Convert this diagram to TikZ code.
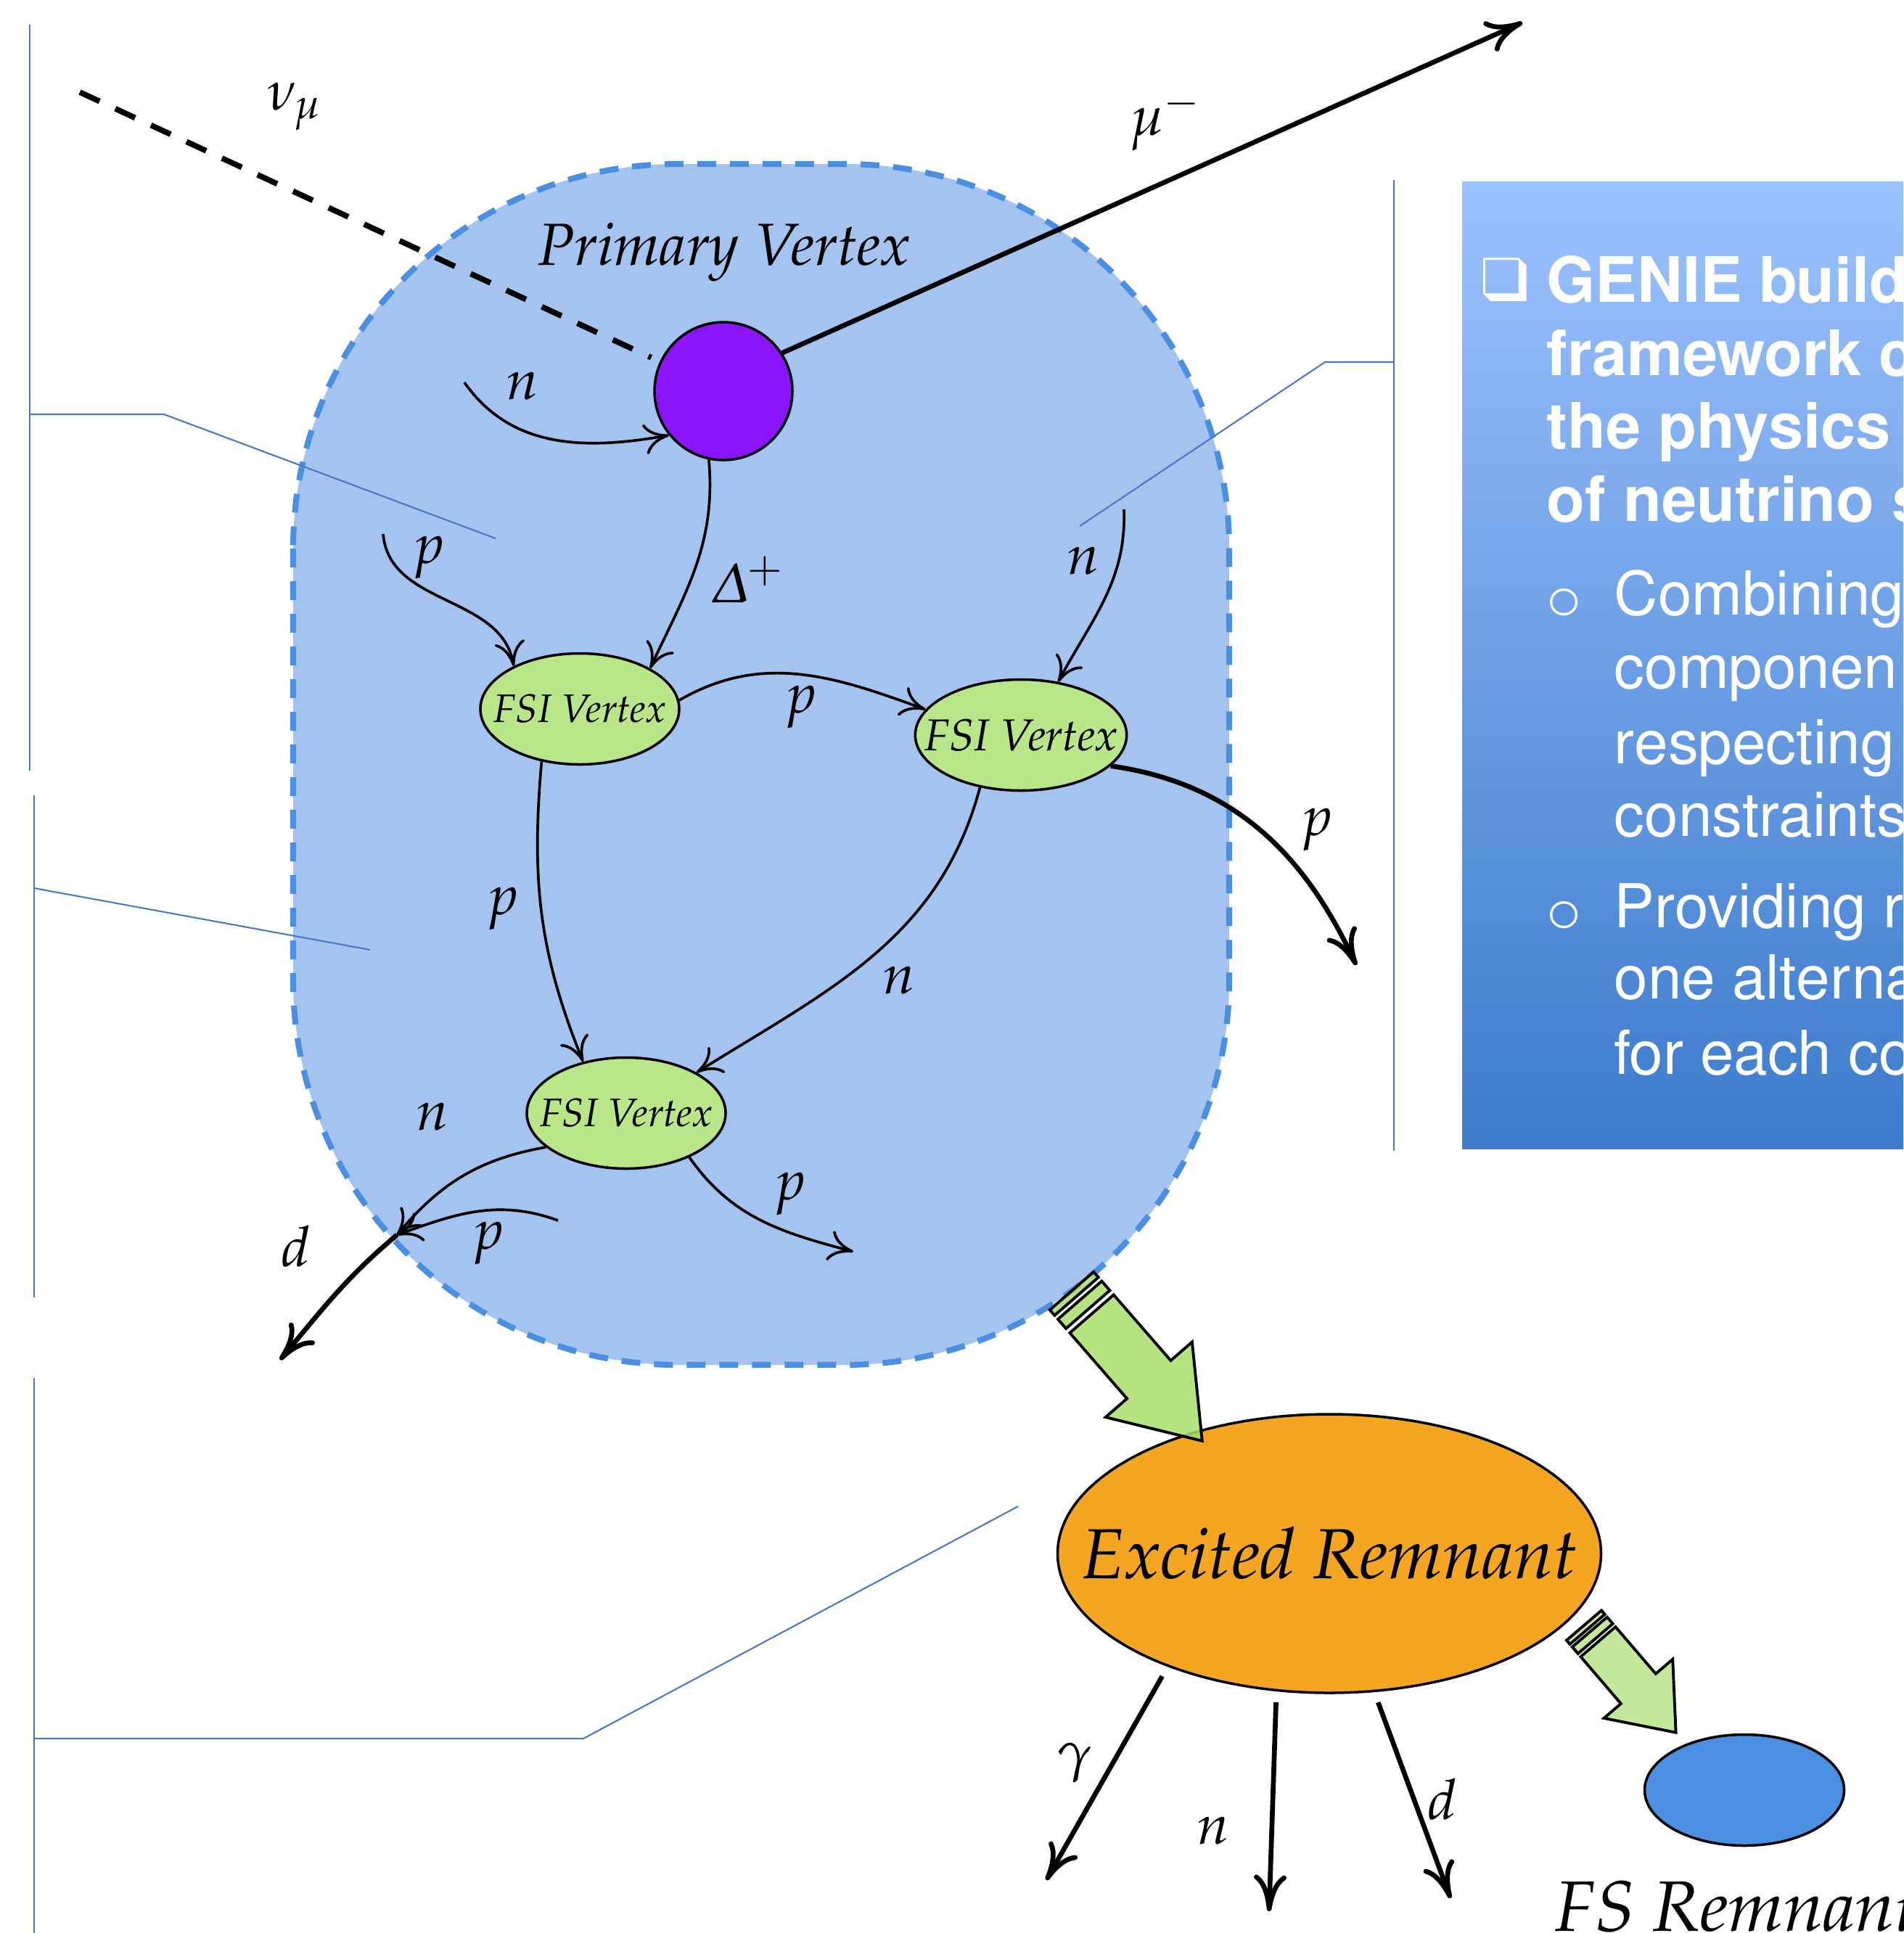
\documentclass[tikz,border=0pt]{standalone}
\usepackage[T1]{fontenc}
\usepackage[slantedGreek]{mathpazo}
\usepackage{helvet}
\usepackage{pifont}
\usetikzlibrary{shapes.geometric}
\usetikzlibrary{arrows.meta}
\definecolor{nucfill}{HTML}{A4C3EE}
\definecolor{nucdraw}{HTML}{4A8FE2}
\definecolor{primpurple}{HTML}{8B14F8}
\definecolor{fsigreen}{HTML}{B8E689}
\definecolor{remorange}{HTML}{F4A623}
\definecolor{fsblue}{HTML}{4A8FE0}
\definecolor{calloutblue}{HTML}{4A78C6}
\definecolor{boxtop}{HTML}{9CC2FE}
\definecolor{boxbot}{HTML}{3C7BCB}
\definecolor{arrowgreen}{HTML}{A8DE68}
\definecolor{arrowgreenl}{HTML}{BAE488}
\tikzstyle{nucleus}=[draw=nucdraw, fill=nucfill, line width=2.3pt, dash pattern=on 2.6mm off 1.9mm, rounded corners=5.3cm]
\tikzstyle{callout}=[draw=calloutblue, line width=0.6pt]
\tikzstyle{primvtx}=[draw, circle, fill=primpurple, line width=1pt, minimum size=1.9cm, inner sep=0pt]
\tikzstyle{vertex}=[draw, ellipse, fill=fsigreen, line width=1pt, inner xsep=-0.3cm, inner ysep=0pt, minimum width=2.74cm, minimum height=1.53cm, font=\itshape\fontsize{15.6}{18}\selectfont]
\tikzstyle{remnant}=[draw, ellipse, fill=remorange, line width=1pt, inner xsep=-0.8cm, inner ysep=0pt, minimum width=7.49cm, minimum height=3.84cm, font=\itshape\fontsize{27.8}{32}\selectfont]
\tikzstyle{lbl}=[inner sep=0pt, font=\fontsize{22}{26}\selectfont]
\tikzstyle{nubeam}=[line width=2.2pt, dash pattern=on 3mm off 2.4mm]
\tikzstyle{track}=[line width=1.05pt, -{To[length=3.4mm,width=4.2mm]}]
\tikzstyle{hardtrack}=[line width=1.9pt, -{To[length=5mm,width=4.5mm]}]
\tikzstyle{boxhead}=[anchor=base west, inner sep=0pt, text=white, font=\sffamily\bfseries\fontsize{24.6}{29}\selectfont]
\tikzstyle{boxsub}=[anchor=base west, inner sep=0pt, text=white, font=\sffamily\fontsize{23.8}{28}\selectfont]
\tikzset{fatarrow/.pic={
  \filldraw (0,-0.4) rectangle (0.1,0.4);
  \filldraw (0.17,-0.4) rectangle (0.34,0.4);
  \filldraw (0.42,-0.4) -- (1.62,-0.4) -- (1.62,-0.79) -- (2.74,0) -- (1.62,0.79) -- (1.62,0.4) -- (0.42,0.4) -- cycle;
}}

\begin{document}
\begin{tikzpicture}
    \clip (0,0) rectangle (26.23,-26.64);
    % nucleus region
    \draw[nucleus] (4.04,-2.26) rectangle (16.94,-18.81);
    % callout lines
    \draw[callout] (0.41,-0.34) -- (0.41,-10.62);
    \draw[callout] (0.41,-5.71) -- (2.26,-5.71) -- (6.83,-7.42);
    \draw[callout] (0.47,-10.96) -- (0.47,-17.88);
    \draw[callout] (0.47,-12.24) -- (5.10,-13.09);
    \draw[callout] (0.47,-18.99) -- (0.47,-26.64);
    \draw[callout] (0.47,-23.96) -- (8.04,-23.96) -- (14.03,-20.76);
    \draw[callout] (19.21,-2.48) -- (19.21,-15.86);
    \draw[callout] (19.21,-4.99) -- (18.26,-4.99) -- (14.88,-7.25);
    % text box
    \shade[top color=boxtop, bottom color=boxbot] (20.15,-2.50) rectangle (26.5,-15.83);
    \node[boxhead] (chk) at (20.41,-4.15) {\ding{113}};
    \foreach \txt/\y [count=\i] in {GENIE build/4.16, framework c/5.17, the physics/6.17, of neutrino s/7.18}
        \node[boxhead] (head\i) at (21.31,-\y) {\txt};
    \node[boxsub, font=\fontfamily{pcr}\fontsize{23.8}{28}\selectfont] (bul1) at (21.30,-8.47) {o};
    \node[boxsub, font=\fontfamily{pcr}\fontsize{23.8}{28}\selectfont] (bul2) at (21.30,-12.78) {o};
    \foreach \txt/\y [count=\i] in {Combining/8.47, componen/9.48, respecting/10.52, constraints/11.52, Providing r/12.78, one alterna/13.76, for each co/14.80}
        \node[boxsub] (sub\i) at (22.24,-\y) {\txt};

    \node[primvtx] (prim) at (9.97,-5.39) {};
    \node[anchor=base, inner sep=0pt, font=\itshape\fontsize{23.3}{28}\selectfont] (primlabel) at (9.98,-3.65) {Primary Vertex};
    \node[vertex] (fsiA) at (7.99,-9.77) {FSI Vertex};
    \node[vertex, font=\itshape\fontsize{17.5}{20}\selectfont] (fsiB) at (14.07,-10.13) {FSI Vertex};
    \node[vertex] (fsiC) at (8.63,-15.34) {FSI Vertex};
    \node[remnant] (exc) at (18.32,-21.41) {Excited Remnant};
    \node[draw, ellipse, fill=fsblue, line width=1pt, minimum width=2.75cm, minimum height=1.53cm] (fsrem) at (24.04,-24.67) {};
    \node[anchor=base, inner sep=0pt, font=\itshape\fontsize{28}{32}\selectfont] (fslabel) at (23.94,-26.61) {FS Remnant};

    \coordinate (nu) at (1.10,-1.27);
    \coordinate (mu) at (20.98,-0.31);
    \coordinate (nin) at (6.40,-5.27);
    \coordinate (pinA) at (5.28,-7.36);
    \coordinate (ninB) at (15.49,-7.02);
    \coordinate (poutB) at (18.69,-13.30);
    \coordinate (meet) at (5.47,-17.02);
    \coordinate (dout) at (3.86,-18.74);
    \coordinate (pinC) at (7.69,-16.82);
    \coordinate (poutC) at (11.76,-17.25);
    \coordinate (gout) at (14.42,-25.91);
    \coordinate (nout) at (17.49,-26.34);
    \coordinate (dfin) at (19.99,-26.16);

    % primary interaction
    \draw[nubeam, shorten >=1.3mm] (nu) -- (prim);
    \draw[hardtrack] (prim.33) -- (mu);
    \draw[track] (nin) to[out=-55,in=190] (prim.219);
    \draw[track] (prim.258) to[out=-85,in=65] (fsiA.30);
    % intranuclear cascade
    \draw[track] (pinA) to[out=-85,in=100] (fsiA.147);
    \draw[track] (fsiA.5) to[out=30,in=160] (fsiB.165);
    \draw[track] (ninB) to[out=-88,in=62] (fsiB.55);
    \draw[hardtrack] (fsiB.-19) to[out=-8,in=115] (poutB);
    \draw[track] (fsiA.234) to[out=-95,in=112] (fsiC.130);
    \draw[track] (fsiB.232) to[out=-105,in=32] (fsiC.30);
    \draw[track] (fsiC.203) to[out=190,in=50] (meet);
    \draw[track] (pinC) to[out=160,in=20] (meet);
    \draw[hardtrack] (meet) to[out=-140,in=50] (dout);
    \draw[track] (fsiC.-35) to[out=-55,in=165] (poutC);
    % de-excitation
    \draw[hardtrack, shorten <=1.5mm] (exc.215) -- (gout);
    \draw[hardtrack, shorten <=1.5mm] (exc.249) -- (nout);
    \draw[hardtrack, shorten <=1.5mm] (exc.288) -- (dfin);
    \pic[rotate=-49, fill=arrowgreen, fill opacity=0.85, line width=1.1pt] at (14.77,-17.79) {fatarrow};
    \pic[rotate=-49.4, xscale=0.71, yscale=0.79, fill=arrowgreenl, fill opacity=0.85, line width=1.1pt] at (21.83,-22.40) {fatarrow};

    % particle labels
    \node[lbl] (lnu) at (4.06,-1.47) {$\nu_\mu$};
    \node[lbl] (lmu) at (16.06,-1.65) {$\mu^-$};
    \node[lbl] (ln1) at (7.20,-5.32) {$n$};
    \node[lbl] (ldelta) at (10.31,-7.99) {$\Delta^+$};
    \node[lbl] (lp1) at (5.91,-7.68) {$p$};
    \node[lbl] (lp2) at (11.04,-9.74) {$p$};
    \node[lbl] (ln2) at (14.93,-7.73) {$n$};
    \node[lbl] (lp3) at (18.15,-11.43) {$p$};
    \node[lbl] (lp4) at (6.93,-12.52) {$p$};
    \node[lbl] (ln3) at (12.39,-13.51) {$n$};
    \node[lbl] (ln4) at (5.96,-15.39) {$n$};
    \node[lbl] (lp5) at (6.73,-17.13) {$p$};
    \node[lbl] (ld1) at (4.08,-17.18) {$d$};
    \node[lbl] (lp6) at (10.89,-16.45) {$p$};
    \node[lbl] (lgam) at (14.81,-24.30) {$\gamma$};
    \node[lbl] (ln5) at (16.72,-25.23) {$n$};
    \node[lbl] (ld2) at (19.88,-24.80) {$d$};
\end{tikzpicture}
\end{document}
